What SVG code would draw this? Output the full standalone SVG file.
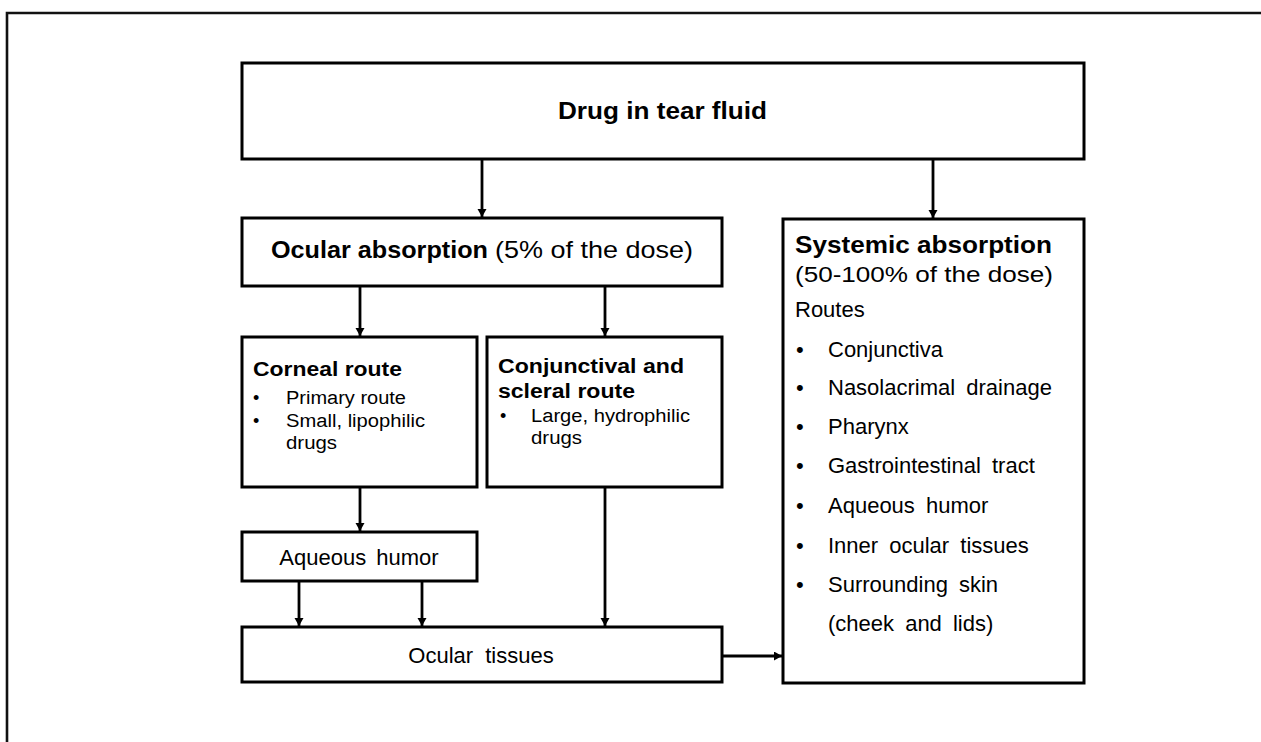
<svg xmlns="http://www.w3.org/2000/svg" width="1261" height="742" viewBox="0 0 1261 742">
<defs>
<marker id="ah" markerUnits="userSpaceOnUse" markerWidth="10" markerHeight="10" refX="8" refY="4.5" orient="auto">
<path d="M0,0 L8,4.5 L0,9 z" fill="#000"/>
</marker>
<style>
.box{fill:#fff;stroke:#000;stroke-width:3}
.t{font-family:"Liberation Sans",Arial,sans-serif;fill:#000}
.b{font-weight:bold}
.con{stroke:#000;stroke-width:2.8;fill:none;marker-end:url(#ah)}
.list{font-size:22px;word-spacing:5px}
</style>
</defs>
<rect width="1261" height="742" fill="#fff"/>
<path d="M7,742 L7,13 L1261,13" fill="none" stroke="#111" stroke-width="2.6"/>

<g id="connectors">
<line class="con" x1="482" y1="159" x2="482" y2="217"/>
<line class="con" x1="933" y1="159" x2="933" y2="218"/>
<line class="con" x1="360" y1="286" x2="360" y2="336"/>
<line class="con" x1="605" y1="286" x2="605" y2="336"/>
<line class="con" x1="360" y1="487" x2="360" y2="531"/>
<line class="con" x1="299" y1="581" x2="299" y2="626"/>
<line class="con" x1="422" y1="581" x2="422" y2="626"/>
<line class="con" x1="605" y1="487" x2="605" y2="626"/>
<line class="con" x1="722" y1="656" x2="782" y2="656"/>
</g>

<g id="drug-tear-fluid">
<rect class="box" x="242" y="63" width="842" height="96"/>
<text class="t b" x="558" y="119" font-size="23" textLength="209" lengthAdjust="spacingAndGlyphs">Drug in tear fluid</text>
</g>

<g id="ocular-absorption">
<rect class="box" x="242" y="218" width="480" height="68"/>
<text class="t b" x="271" y="258" font-size="24" textLength="217" lengthAdjust="spacingAndGlyphs">Ocular absorption</text>
<text class="t" x="495" y="258" font-size="24" textLength="198" lengthAdjust="spacingAndGlyphs">(5% of the dose)</text>
</g>

<g id="corneal-route">
<rect class="box" x="242" y="337" width="235" height="150"/>
<text class="t b" x="253" y="376" font-size="20" textLength="149" lengthAdjust="spacingAndGlyphs">Corneal route</text>
<text class="t" x="253" y="404" font-size="18">•</text>
<text class="t" x="286" y="404" font-size="18" textLength="120" lengthAdjust="spacingAndGlyphs">Primary route</text>
<text class="t" x="253" y="427" font-size="18">•</text>
<text class="t" x="286" y="427" font-size="18" textLength="139" lengthAdjust="spacingAndGlyphs">Small, lipophilic</text>
<text class="t" x="286" y="449" font-size="18" textLength="51" lengthAdjust="spacingAndGlyphs">drugs</text>
</g>

<g id="conjunctival-scleral-route">
<rect class="box" x="487" y="337" width="235" height="150"/>
<text class="t b" x="498" y="373" font-size="20" textLength="186" lengthAdjust="spacingAndGlyphs">Conjunctival and</text>
<text class="t b" x="498" y="398" font-size="20" textLength="137" lengthAdjust="spacingAndGlyphs">scleral route</text>
<text class="t" x="500" y="422" font-size="18">•</text>
<text class="t" x="531" y="422" font-size="18" textLength="159" lengthAdjust="spacingAndGlyphs">Large, hydrophilic</text>
<text class="t" x="531" y="444" font-size="18" textLength="51" lengthAdjust="spacingAndGlyphs">drugs</text>
</g>

<g id="aqueous-humor">
<rect class="box" x="242" y="532" width="235" height="49"/>
<text class="t" x="359" y="565" font-size="22" text-anchor="middle" word-spacing="4">Aqueous humor</text>
</g>

<g id="ocular-tissues">
<rect class="box" x="242" y="627" width="480" height="55"/>
<text class="t" x="481" y="663" font-size="22" text-anchor="middle" word-spacing="6">Ocular tissues</text>
</g>

<g id="systemic-absorption">
<rect class="box" x="783" y="219" width="301" height="464"/>
<text class="t b" x="795" y="253" font-size="23" textLength="257" lengthAdjust="spacingAndGlyphs">Systemic absorption</text>
<text class="t" x="795" y="282" font-size="22" textLength="258" lengthAdjust="spacingAndGlyphs">(50-100% of the dose)</text>
<text class="t" x="795" y="317" font-size="22">Routes</text>
<g class="t list">
<text x="796" y="357">•</text><text x="828" y="357">Conjunctiva</text>
<text x="796" y="395">•</text><text x="828" y="395">Nasolacrimal drainage</text>
<text x="796" y="434">•</text><text x="828" y="434">Pharynx</text>
<text x="796" y="473">•</text><text x="828" y="473">Gastrointestinal tract</text>
<text x="796" y="513">•</text><text x="828" y="513">Aqueous humor</text>
<text x="796" y="553">•</text><text x="828" y="553">Inner ocular tissues</text>
<text x="796" y="592">•</text><text x="828" y="592">Surrounding skin</text>
<text x="828" y="631">(cheek and lids)</text>
</g>
</g>
</svg>
